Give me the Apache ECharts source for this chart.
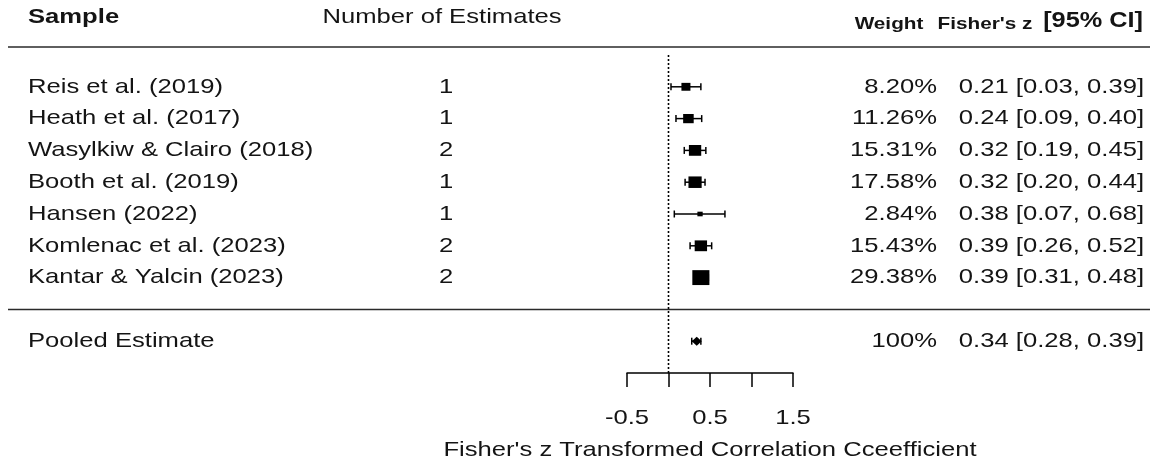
<!DOCTYPE html>
<html>
<head>
<meta charset="utf-8">
<script src="https://cdn.jsdelivr.net/npm/echarts@6/dist/echarts.min.js"></script>
<style>
  html, body { margin: 0; padding: 0; background: #ffffff; }
  #chart { width: 1156px; height: 472px; }
</style>
</head>
<body>
<div id="chart"></div>
<script>
// Study-level meta-analysis results (Fisher's z with 95% CI)
const samples = [
  'Reis et al. (2019)',
  'Heath et al. (2017)',
  'Wasylkiw & Clairo (2018)',
  'Booth et al. (2019)',
  'Hansen (2022)',
  'Komlenac et al. (2023)',
  'Kantar & Yalcin (2023)'
];
const estimateCounts = [1, 1, 2, 1, 1, 2, 2];
const weights = [8.20, 11.26, 15.31, 17.58, 2.84, 15.43, 29.38];
const fisherZ = [0.21, 0.24, 0.32, 0.32, 0.38, 0.39, 0.39];
const ciLower = [0.03, 0.09, 0.19, 0.20, 0.07, 0.26, 0.31];
const ciUpper = [0.39, 0.40, 0.45, 0.44, 0.68, 0.52, 0.48];

// Pooled (random-effects) estimate
const pooledName = 'Pooled Estimate';
const pooledWeight = 100;
const pooledZ = 0.34;
const pooledLower = 0.28;
const pooledUpper = 0.39;

// Axis labelling
const xTickLabels = ['-0.5', '0.5', '1.5'];
const xAxisTitle = "Fisher's z Transformed Correlation Cceefficient";

// ---- layout -------------------------------------------------------------
const W = 1156, H = 472;
const ROWS_TOP = 55;          // pixel y of row 0
const ROWS_BOTTOM = 373;      // pixel y of row 10 (x-axis line)
const PLOT_LEFT = 627, PLOT_RIGHT = 793;
const COL = { name: 28, count: 446, weight: 937, ci: 1144 };
const TEXT = '#141414';
const FONT = '"Liberation Sans", Arial, Helvetica, sans-serif';
const BODY_FONT = '21px ' + FONT;
const WIDE = 1.22;            // horizontal stretch of the printed text
const POOLED_ROW = samples.length + 2;
const SEPARATOR_ROW = samples.length + 1;

const fmt2 = v => v.toFixed(2);
const ciText = (z, lo, hi) => fmt2(z) + ' [' + fmt2(lo) + ', ' + fmt2(hi) + ']';

// table rows: one entry per printed line
const tableRows = samples.map((s, i) => ({
  row: i + 1,
  name: s,
  count: String(estimateCounts[i]),
  weight: fmt2(weights[i]) + '%',
  ci: ciText(fisherZ[i], ciLower[i], ciUpper[i])
}));
tableRows.push({
  row: POOLED_ROW,
  name: pooledName,
  count: '',
  weight: pooledWeight + '%',
  ci: ciText(pooledZ, pooledLower, pooledUpper)
});

function textEl(x, y, text, font, align, scaleX) {
  return {
    type: 'text',
    x: x,
    y: y,
    scaleX: scaleX,
    scaleY: 1,
    style: {
      text: text,
      font: font,
      fill: TEXT,
      align: align, textAlign: align,
      verticalAlign: 'middle', textVerticalAlign: 'middle'
    }
  };
}

// a text column drawn on the table grid, one label per row
function textColumn(key, xPos, align) {
  return {
    type: 'custom',
    xAxisIndex: 1,
    yAxisIndex: 1,
    silent: true,
    data: tableRows.map(r => [xPos, r.row]),
    renderItem(params, api) {
      const p = api.coord([api.value(0), api.value(1)]);
      return textEl(p[0], p[1], tableRows[params.dataIndex][key], BODY_FONT, align, WIDE);
    }
  };
}

const markStyle = { stroke: '#000', lineWidth: 1.5 };
const CAP = 3.5;

function whisker(lo, hi) {
  return [
    { type: 'line', shape: { x1: lo[0], y1: lo[1], x2: hi[0], y2: hi[1] }, style: markStyle },
    { type: 'line', shape: { x1: lo[0], y1: lo[1] - CAP, x2: lo[0], y2: lo[1] + CAP }, style: markStyle },
    { type: 'line', shape: { x1: hi[0], y1: hi[1] - CAP, x2: hi[0], y2: hi[1] + CAP }, style: markStyle }
  ];
}

const chart = echarts.init(document.getElementById('chart'), null, { renderer: 'canvas' });

const plotGridH = ROWS_BOTTOM - ROWS_TOP;

const option = {
  animation: false,
  backgroundColor: '#ffffff',
  grid: [
    { left: PLOT_LEFT, width: PLOT_RIGHT - PLOT_LEFT, top: ROWS_TOP, height: plotGridH },
    { left: 0, width: W, top: ROWS_TOP, height: plotGridH }
  ],
  xAxis: [
    {
      type: 'value',
      gridIndex: 0,
      min: -0.5,
      max: 1.5,
      interval: 0.5,
      position: 'bottom',
      axisLine: { show: true, onZero: false, lineStyle: { color: '#000', width: 1.5 } },
      axisTick: { show: true, length: 14, lineStyle: { color: '#000', width: 1.5 } },
      splitLine: { show: false },
      axisLabel: { show: false }
    },
    { type: 'value', gridIndex: 1, min: 0, max: W, show: false }
  ],
  yAxis: [
    { type: 'value', gridIndex: 0, min: 0, max: 10, inverse: true, show: false },
    { type: 'value', gridIndex: 1, min: 0, max: 10, inverse: true, show: false }
  ],
  graphic: [
    // column headers
    textEl(28, 17, 'Sample', 'bold 21px ' + FONT, 'left', WIDE),
    textEl(442, 17, 'Number of Estimates', '21px ' + FONT, 'center', WIDE),
    textEl(889, 24, 'Weight', 'bold 17px ' + FONT, 'center', WIDE),
    textEl(985, 24, "Fisher's z", 'bold 17px ' + FONT, 'center', WIDE),
    textEl(1143, 21, '[95% CI]', 'bold 22px ' + FONT, 'right', 1.15),
    // x-axis title
    textEl((PLOT_LEFT + PLOT_RIGHT) / 2, 450, xAxisTitle, '21px ' + FONT, 'center', WIDE)
  ],
  series: [
    // rule under the header and above the pooled row
    {
      type: 'custom',
      xAxisIndex: 1,
      yAxisIndex: 1,
      silent: true,
      data: [[8, 1150, -0.25], [8, 1150, SEPARATOR_ROW]],
      renderItem(params, api) {
        const a = api.coord([api.value(0), api.value(2)]);
        const b = api.coord([api.value(1), api.value(2)]);
        return { type: 'line', shape: { x1: a[0], y1: a[1], x2: b[0], y2: b[1] }, style: { stroke: '#2a2a2a', lineWidth: 1.5 } };
      }
    },
    // line of no effect
    {
      type: 'line',
      xAxisIndex: 0,
      yAxisIndex: 0,
      silent: true,
      symbol: 'none',
      data: [[0, 0], [0, 10]],
      lineStyle: { color: '#000', width: 1.6, type: [2, 2] }
    },
    // study estimates: CI whiskers and weight-scaled boxes
    {
      type: 'custom',
      xAxisIndex: 0,
      yAxisIndex: 0,
      silent: true,
      data: samples.map((s, i) => [fisherZ[i], ciLower[i], ciUpper[i], i + 1, weights[i]]),
      encode: { x: [0, 1, 2], y: 3 },
      renderItem(params, api) {
        const row = api.value(3);
        const c = api.coord([api.value(0), row]);
        const lo = api.coord([api.value(1), row]);
        const hi = api.coord([api.value(2), row]);
        const s = Math.sqrt(api.value(4));
        const bw = s * 3.15, bh = s * 2.75;
        return {
          type: 'group',
          children: whisker(lo, hi).concat([
            { type: 'rect', shape: { x: c[0] - bw / 2, y: c[1] - bh / 2, width: bw, height: bh }, style: { fill: '#000' } }
          ])
        };
      }
    },
    // pooled estimate: diamond with CI
    {
      type: 'custom',
      xAxisIndex: 0,
      yAxisIndex: 0,
      silent: true,
      data: [[pooledZ, pooledLower, pooledUpper, POOLED_ROW]],
      encode: { x: [0, 1, 2], y: 3 },
      renderItem(params, api) {
        const row = api.value(3);
        const c = api.coord([api.value(0), row]);
        const lo = api.coord([api.value(1), row]);
        const hi = api.coord([api.value(2), row]);
        const dx = 5, dy = 4.5;
        return {
          type: 'group',
          children: whisker(lo, hi).concat([
            { type: 'polygon', shape: { points: [[c[0] - dx, c[1]], [c[0], c[1] - dy], [c[0] + dx, c[1]], [c[0], c[1] + dy]] }, style: { fill: '#000' } }
          ])
        };
      }
    },
    // labelled ticks under the axis
    {
      type: 'custom',
      xAxisIndex: 0,
      yAxisIndex: 0,
      silent: true,
      data: xTickLabels.map(t => [parseFloat(t), 10]),
      encode: { x: 0, y: 1 },
      renderItem(params, api) {
        const p = api.coord([api.value(0), api.value(1)]);
        return textEl(p[0], p[1] + 45, xTickLabels[params.dataIndex], '21px ' + FONT, 'center', WIDE);
      }
    },
    textColumn('name', COL.name, 'left'),
    textColumn('count', COL.count, 'center'),
    textColumn('weight', COL.weight, 'right'),
    textColumn('ci', COL.ci, 'right')
  ]
};

chart.setOption(option);
</script>
</body>
</html>
